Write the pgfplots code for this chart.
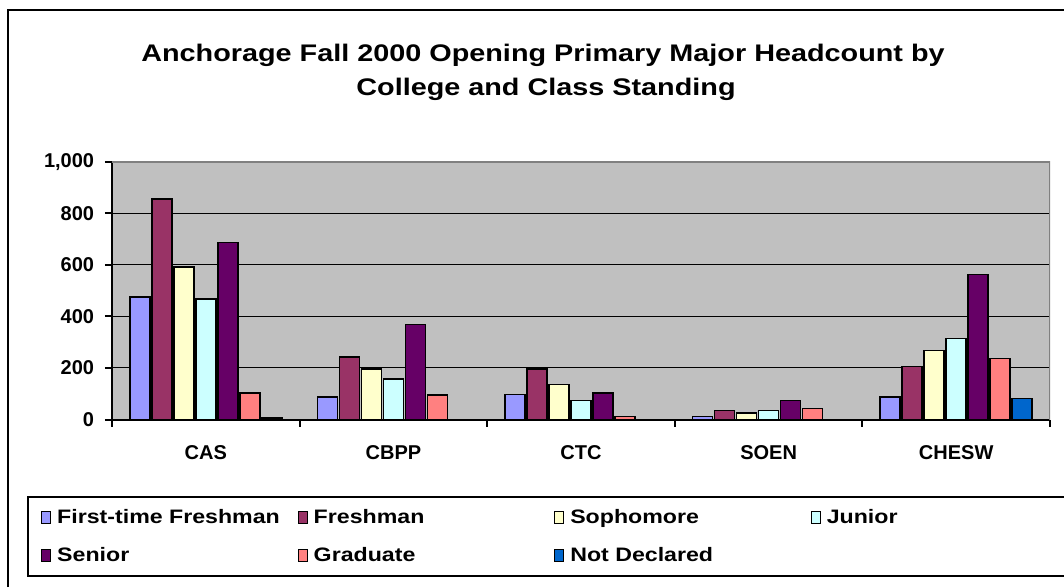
\documentclass[border=0pt]{standalone}
\usepackage{fontspec}
\setmainfont{Liberation Sans}
\newfontfamily\titlefont[FakeStretch=1.2]{Liberation Sans}
\newfontfamily\legfont[FakeStretch=1.19]{Liberation Sans}
\usepackage{pgfplots}
\pgfplotsset{compat=1.18}

\definecolor{ftf}{HTML}{9999FF}
\definecolor{fresh}{HTML}{993366}
\definecolor{soph}{HTML}{FFFFCC}
\definecolor{junior}{HTML}{CCFFFF}
\definecolor{senior}{HTML}{660066}
\definecolor{grad}{HTML}{FF8080}
\definecolor{notdecl}{HTML}{0066CC}
\definecolor{plotbg}{HTML}{C0C0C0}
\definecolor{frame}{HTML}{808080}

% 0 = CAS, 1 = CBPP, 2 = CTC, 3 = SOEN, 4 = CHESW
\pgfplotstableread{
x ftf fresh soph junior senior grad
0 476 856 591 468 686 103
1  88 243 195 158 369  96
2  97 195 136  74 103  12
3  12  35  26  35  74  43
4  88 206 268 314 563 236
}\heads

\begin{document}
\begin{tikzpicture}
\path[use as bounding box] (0,0) rectangle (798pt,440.25pt);

\begin{axis}[
  at={(84pt,125.6pt)}, anchor=south west,
  width=703.5pt, height=193.35pt, scale only axis,
  xmin=-0.5, xmax=4.5, ymin=0, ymax=1000,
  ytick={0,200,...,1000},
  xtick={-0.5,0.5,...,4.5},
  x tick label as interval,
  xticklabels={CAS,CBPP,CTC,SOEN,CHESW},
  axis x line*=bottom, axis y line*=left,
  axis line style={black, line width=1.5pt},
  axis background/.style={fill=plotbg},
  ymajorgrids, major grid style={black, line width=0.75pt},
  tick align=outside, major tick length=5.25pt,
  tick style={black, line width=1.5pt},
  ybar=1.5pt, bar width=15pt,
  /pgf/number format/assume math mode=true,
  ticklabel style={font=\bfseries\fontsize{15}{18}\selectfont},
  yticklabel style={inner sep=0pt, xshift=-8pt},
  xticklabel style={inner sep=0pt, yshift=-14.25pt},
  legend columns=4,
  legend cell align=left,
  legend style={at={(-0.0906,-0.2967)}, anchor=north west,
    draw=black, line width=1.5pt,
    font=\legfont\bfseries\fontsize{14.6}{17}\selectfont,
    inner xsep=9.75pt, inner ysep=7.5pt, row sep=12pt,
    /tikz/every odd column/.append style={column sep=2.5pt}},
  legend image code/.code={\draw[#1, draw=black, line width=0.9pt] (0pt,-4.5pt) rectangle (6.75pt,4.5pt);},
  every axis plot/.append style={draw=black, line width=1.2pt},
]
\addplot[fill=ftf] table[x=x, y=ftf] {\heads};
\addlegendentry{\makebox[178.25pt][l]{First-time Freshman}}
\addplot[fill=fresh] table[x=x, y=fresh] {\heads};
\addlegendentry{\makebox[178.25pt][l]{Freshman}}
\addplot[fill=soph] table[x=x, y=soph] {\heads};
\addlegendentry{\makebox[178.25pt][l]{Sophomore}}
\addplot[fill=junior] table[x=x, y=junior] {\heads};
\addlegendentry{\makebox[168pt][l]{Junior}}
\addplot[fill=senior] table[x=x, y=senior] {\heads};
\addlegendentry{Senior}
\addplot[fill=grad] table[x=x, y=grad] {\heads};
\addlegendentry{Graduate}
\addplot[fill=notdecl] coordinates {(0,5) (4,81)};
\addlegendentry{Not Declared}
% grey frame on the top and right of the plot area
\draw[frame, line width=1.5pt] (rel axis cs:0,1) -- (rel axis cs:1,1) -- (rel axis cs:1,0);
\end{axis}

\begin{scope}[x=0.75pt, y=0.75pt]
  \draw[black, line width=1.5pt] (8,0) -- (8,577) -- (1070,577);
  \node[anchor=base, inner sep=0pt, font=\titlefont\bfseries\fontsize{18}{22}\selectfont]
    at (543,525) {Anchorage Fall 2000 Opening Primary Major Headcount by};
  \node[anchor=base, inner sep=0pt, font=\titlefont\bfseries\fontsize{18}{22}\selectfont]
    at (546,491) {College and Class Standing};
\end{scope}
\end{tikzpicture}
\end{document}
